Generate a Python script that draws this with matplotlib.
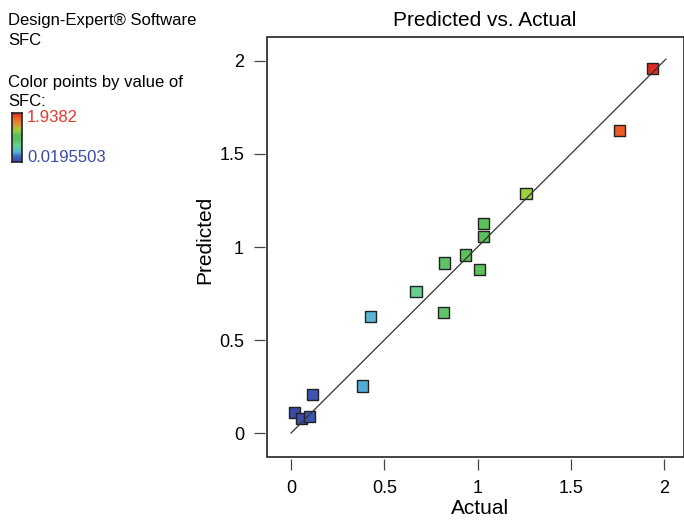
import numpy as np
import matplotlib.pyplot as plt
import matplotlib as mpl
from matplotlib.colors import LinearSegmentedColormap, Normalize
from matplotlib.patches import Rectangle

plt.rcParams['font.family'] = ['Liberation Sans', 'DejaVu Sans']

# data
actual = [0.0195503, 0.054, 0.098, 0.114, 0.382, 0.424, 0.670, 0.822, 0.819,
          0.935, 1.010, 1.033, 1.033, 1.260, 1.760, 1.9382]
predicted = [0.108, 0.078, 0.089, 0.208, 0.253, 0.624, 0.763, 0.914, 0.647,
             0.957, 0.878, 1.057, 1.125, 1.287, 1.627, 1.962]
ticks = [0, 0.5, 1, 1.5, 2]
tick_labels = ['0', '0.5', '1', '1.5', '2']
sfc_min, sfc_max = 0.0195503, 1.9382

# Design-Expert like blue -> green -> red scale
cmap = LinearSegmentedColormap.from_list('de', [
    (0.0, '#3a48a8'), (0.12, '#3f6cc0'), (0.2, '#58b6da'), (0.34, '#66d08e'),
    (0.45, '#5cc05c'), (0.55, '#5cc05c'), (0.65, '#a0d040'), (0.8, '#e88a30'),
    (0.9, '#f06020'), (1.0, '#e02a26')])
norm = Normalize(sfc_min, sfc_max)

fig = plt.figure(figsize=(6.84, 5.2), dpi=100)
ax = fig.add_axes([267 / 684, 63 / 520, 417 / 684, 420 / 520])
ax.set_xlim(-0.129, 2.107)
ax.set_ylim(-0.129, 2.129)

ax.scatter(actual, predicted, c=cmap(norm(actual)), marker='s', s=64,
           edgecolors='#222222', linewidths=1.0, zorder=2)
ax.plot([0, 2.01], [0, 2.01], color='#333333', lw=0.9, zorder=3)

# frame drawn separately so the ticks sit a bit off the box
for side in ['top', 'right', 'bottom', 'left']:
    ax.spines[side].set_visible(False)
ax.spines['bottom'].set_position(('outward', 1.5))
ax.spines['left'].set_position(('outward', 1.5))
ax.add_patch(Rectangle((0, 0), 1, 1, transform=ax.transAxes, fill=False,
                       edgecolor='#222222', lw=1.2, clip_on=False, zorder=5))

ax.set_xticks(ticks)
ax.set_xticklabels(tick_labels)
ax.set_yticks(ticks)
ax.set_yticklabels(tick_labels)
ax.tick_params(direction='out', length=8, width=0.9, color='#444444',
               labelsize=13, pad=7)

fig.text(485 / 684, 1 - 20 / 520, 'Predicted vs. Actual', fontsize=15,
         ha='center', va='center')
fig.text(480 / 684, 1 - 509 / 520, 'Actual', fontsize=15, ha='center', va='center')
fig.text(205 / 684, 1 - 240 / 520, 'Predicted', fontsize=15, ha='center',
         va='center', rotation=90)

# side panel text
fs = 12
fig.text(8 / 684, 1 - 20 / 520, 'Design-Expert® Software', fontsize=fs, va='center')
fig.text(8 / 684, 1 - 41 / 520, 'SFC', fontsize=fs, va='center')
fig.text(8 / 684, 1 - 82 / 520, 'Color points by value of', fontsize=fs, va='center')
fig.text(8 / 684, 1 - 102 / 520, 'SFC:', fontsize=fs, va='center')

cax = fig.add_axes([12 / 684, 1 - 162 / 520, 10 / 684, 49 / 520])
grad = np.linspace(1, 0, 100).reshape(-1, 1)
cax.imshow(grad, aspect='auto', cmap=cmap, extent=[0, 1, 0, 1])
cax.set_xticks([])
cax.set_yticks([])
for s in cax.spines.values():
    s.set_color('#222222')
    s.set_linewidth(1.2)
fig.text(27 / 684, 1 - 118 / 520, '1.9382', fontsize=fs, va='center', color='#e03a2a')
fig.text(27 / 684, 1 - 157 / 520, '0.0195503', fontsize=fs, va='center', color='#3a4aa8')

fig.savefig('out.png', dpi=100)
